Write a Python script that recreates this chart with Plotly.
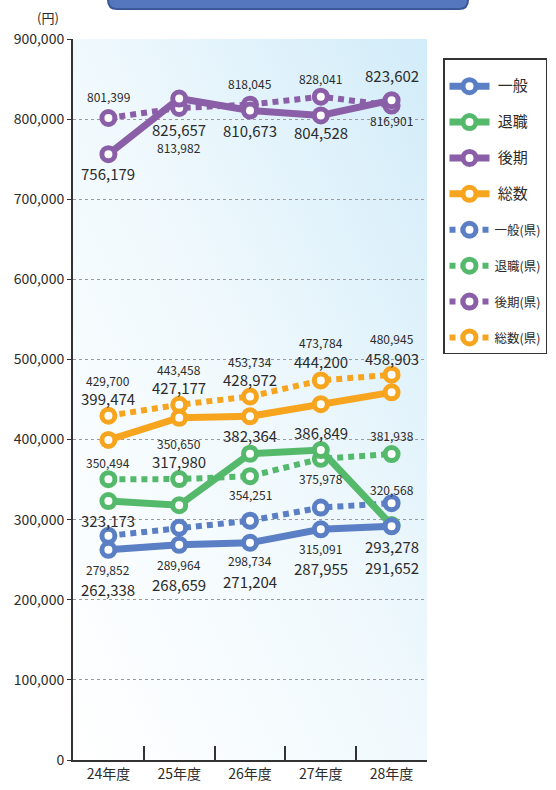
import base64
import plotly.graph_objects as go

# ---------------- data ----------------
categories = ["24年度", "25年度", "26年度", "27年度", "28年度"]

ippan = [262338, 268659, 271204, 287955, 291652]          # 一般
taishoku = [323173, 317980, 382364, 386849, 293278]       # 退職
kouki = [756179, 825657, 810673, 804528, 823602]          # 後期
sousu = [399474, 427177, 428972, 444200, 458903]          # 総数
ippan_ken = [279852, 289964, 298734, 315091, 320568]      # 一般(県)
taishoku_ken = [350494, 350650, 354251, 375978, 381938]   # 退職(県)
kouki_ken = [801399, 813982, 818045, 828041, 816901]      # 後期(県)
sousu_ken = [429700, 443458, 453734, 473784, 480945]      # 総数(県)

y_tick_values = [0, 100000, 200000, 300000, 400000, 500000, 600000, 700000, 800000, 900000]

# ---------------- styles ----------------
BLUE = "#5b7fc4"
GREEN = "#55b96c"
PURPLE = "#8b5fa8"
ORANGE = "#f7a51f"
FONT = "Noto Sans CJK JP, Noto Sans, sans-serif"
TXT = "#2b2b2b"

# label offsets in screen px (positive = label below the point)
off_ippan = [40, 40, 39, 39, 41]
off_taishoku = [19, -44, -18, -18, 21]
off_kouki = [19, 31, 20, 17, -25]
off_sousu = [-41, -30, -37, -43, -34]
off_ippan_ken = [34, 37, 40, 41, -14]
off_taishoku_ken = [-17, -36, 18, 20, -19]
off_kouki_ken = [-21, 40, -21, -18, 15]
off_sousu_ken = [-35, -35, -35, -38, -36]

series = [
    # (name, values, color, dotted, offsets, legend rank)
    ("一般(県)", ippan_ken, BLUE, True, off_ippan_ken, 5),
    ("退職(県)", taishoku_ken, GREEN, True, off_taishoku_ken, 6),
    ("後期(県)", kouki_ken, PURPLE, True, off_kouki_ken, 7),
    ("総数(県)", sousu_ken, ORANGE, True, off_sousu_ken, 8),
    ("総数", sousu, ORANGE, False, off_sousu, 4),
    ("後期", kouki, PURPLE, False, off_kouki, 3),
    ("退職", taishoku, GREEN, False, off_taishoku, 2),
    ("一般", ippan, BLUE, False, off_ippan, 1),
]

fig = go.Figure()
annotations = []
for name, vals, color, dotted, offs, rank in series:
    if dotted:
        label = "<span style='font-size:12.5px'>%s</span>" % name
    else:
        label = "<span style='font-size:15px'>&nbsp;%s</span>" % name
    fig.add_trace(go.Scatter(
        x=categories, y=vals, name=label, mode="lines+markers",
        legendgroup=name, legendrank=rank,
        line=dict(color=color, width=6 if dotted else 7,
                  dash="6px,5px" if dotted else "solid"),
        marker=dict(symbol="circle", size=13, color="white",
                    line=dict(color=color, width=5)),
        hoverinfo="skip",
    ))
    for c, v, o in zip(categories, vals, offs):
        annotations.append(dict(
            x=c, y=v, xref="x", yref="y", text=f"{v:,}", showarrow=False,
            yshift=-o, font=dict(family=FONT, size=12 if dotted else 15, color=TXT),
        ))

# gradient background (decorative)
svg = (
    "<svg xmlns='http://www.w3.org/2000/svg' width='100' height='100' preserveAspectRatio='none'>"
    "<defs><linearGradient id='g' x1='0' y1='1' x2='1' y2='0'>"
    "<stop offset='0' stop-color='#ffffff'/>"
    "<stop offset='0.5' stop-color='#f0f9fd'/>"
    "<stop offset='1' stop-color='#d2ecf9'/>"
    "</linearGradient></defs>"
    "<rect width='100' height='100' fill='url(#g)'/></svg>"
)
svg_uri = "data:image/svg+xml;base64," + base64.b64encode(svg.encode()).decode()

W, H = 556, 790
L, R, T, B = 73, 427, 39, 760
pw, ph = R - L, B - T


def px(xp):
    return (xp - L) / pw


def py(yp):
    return (B - yp) / ph


# title bar (partially cut off at top)
x0, x1 = px(108), px(468)
y_top, y_bot = py(-8), py(9)
rx = 9 / pw
ry = 9 / ph
title_path = (
    f"M{x0},{y_top} L{x0},{y_bot + ry} Q{x0},{y_bot} {x0 + rx},{y_bot} "
    f"L{x1 - rx},{y_bot} Q{x1},{y_bot} {x1},{y_bot + ry} L{x1},{y_top} Z"
)

annotations.append(dict(
    x=px(48), y=py(17), xref="paper", yref="paper", text="(円)", showarrow=False,
    xanchor="center", yanchor="middle",
    font=dict(family=FONT, size=13, color=TXT),
))

fig.update_layout(
    width=W, height=H,
    margin=dict(l=L, r=W - R, t=T, b=H - B, pad=0, autoexpand=False),
    paper_bgcolor="white",
    plot_bgcolor="rgba(0,0,0,0)",
    font=dict(family=FONT, color=TXT),
    images=[dict(source=svg_uri, xref="paper", yref="paper", x=0, y=1,
                 sizex=1, sizey=1, sizing="stretch", layer="below",
                 xanchor="left", yanchor="top")],
    shapes=[dict(type="path", path=title_path, xref="paper", yref="paper",
                 fillcolor="#5577be", line=dict(color="#3a5797", width=2))],
    annotations=annotations,
    showlegend=True,
    legend=dict(
        x=px(443), y=py(58), xanchor="left", yanchor="top",
        bgcolor="white", bordercolor="#333333", borderwidth=1.5,
        font=dict(family=FONT, size=13, color=TXT),
        title=dict(text="&nbsp;", font=dict(size=9)),
        tracegroupgap=16, itemwidth=40, traceorder="grouped",
    ),
    xaxis=dict(
        type="category", range=[-0.5, 4.5], showgrid=False, automargin=False,
        showline=True, linecolor="#333333", linewidth=2,
        ticks="inside", ticklen=14, tickwidth=1.5, tickcolor="#333333",
        tickson="boundaries",
        tickfont=dict(family=FONT, size=14, color=TXT),
        fixedrange=True,
    ),
    yaxis=dict(
        range=[0, 900000], tickvals=y_tick_values, tickformat=",", automargin=False,
        showgrid=True, gridcolor="#9a9a9a", gridwidth=1, griddash="dot",
        showline=True, linecolor="#333333", linewidth=2,
        ticks="outside", ticklen=4, tickcolor="#333333",
        tickfont=dict(family=FONT, size=14, color=TXT),
        zeroline=False, fixedrange=True,
    ),
)

fig.write_html(
    "out.html",
    config={"displayModeBar": False},
    post_script="document.body.style.margin='0';document.body.style.overflow='hidden';",
)
